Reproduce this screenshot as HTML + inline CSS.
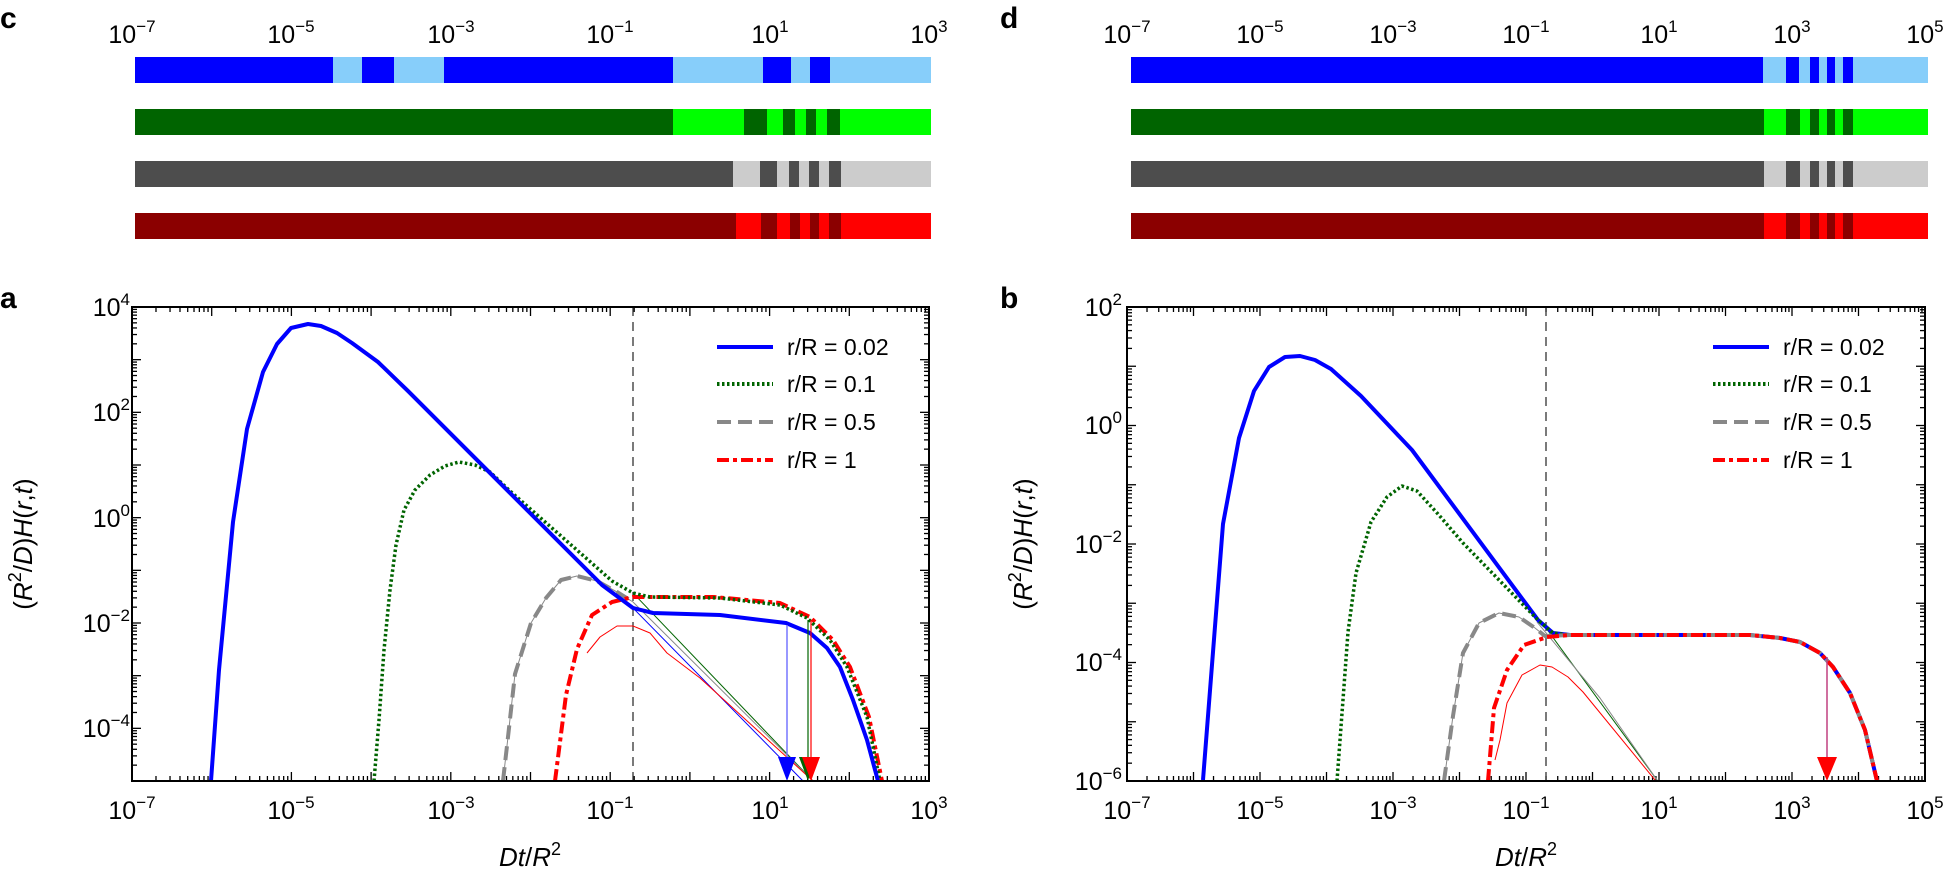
<!DOCTYPE html>
<html><head><meta charset="utf-8"><style>
html,body{margin:0;padding:0;background:#fff}
svg{display:block}
text{font-family:"Liberation Sans",Arial,sans-serif;fill:#000}
</style></head><body>
<svg id="s" width="1946" height="872" viewBox="0 0 1946 872" xmlns="http://www.w3.org/2000/svg">
<g id="bars"></g>
<g id="ticks" stroke="#000" stroke-width="1.3"></g>
<line x1="633" y1="307" x2="633" y2="781" stroke="#333" stroke-width="1.3" stroke-dasharray="9,6"/>
<line x1="1546" y1="307" x2="1546" y2="781" stroke="#333" stroke-width="1.3" stroke-dasharray="9,6"/>
<g fill="none" stroke-linejoin="round">
<polyline points="633,608 803,781" stroke="#0000ff" stroke-width="1"/>
<polyline points="633,593 813,781" stroke="#006400" stroke-width="1"/>
<polyline points="633,602 813,781" stroke="#888" stroke-width="1"/>
<polyline points="587,653 600,637 617,626 633,626 650,633 667,653 700,678 813,781" stroke="#ff0000" stroke-width="1"/>
<polyline points="503,781 508,737 515,674 531,623 546,598 561,580 577,576 597,581 617,592 633,602" stroke="#888" stroke-width="1"/>
<polyline points="503,781 508,737 515,674 531,623 546,598 561,580 577,576 597,581 617,592 633,602" stroke="#888" stroke-width="4" stroke-dasharray="14,7"/>
<polyline points="555,781 566,695 577,649 592,615 612,602 633,597 714,597 780,603 810,617 833,640 850,667 869,717 882,781" stroke="#ff0000" stroke-width="4" stroke-dasharray="12,4,4,4"/>
<polyline points="374,781 379,720 384,650 390,590 396,545 404,510 415,490 430,475 445,466 459,462 475,465 490,472 510,491 612,581 633,593 650,597 720,598 780,605 807,618 830,640 847,667 867,717 880,781" stroke="#006400" stroke-width="3.5" stroke-dasharray="2.5,2.5"/>
<polyline points="211,781 219,670 233,522 247,429 263,372 277,344 291,328 308,324 321,326 337,333 352,343 378,362 408,391 602,585 633,608 653,613 720,615 786,623 810,633 827,648 840,667 853,700 867,740 878,781" stroke="#0000ff" stroke-width="4"/>
<line x1="787" y1="625" x2="787" y2="760" stroke="#7777ff" stroke-width="1.5"/>
<line x1="808" y1="620" x2="808" y2="760" stroke="#006400" stroke-width="1.2"/>
<line x1="811" y1="620" x2="811" y2="760" stroke="#ff0000" stroke-width="1.2"/>
<polyline points="1546,628 1657,780" stroke="#006400" stroke-width="1"/>
<polyline points="1537,622 1600,698 1657,780" stroke="#888" stroke-width="1"/>
<polyline points="1495,760 1500,740 1507,703 1522,675 1540,665 1552,667 1568,677 1583,692 1655,780" stroke="#ff0000" stroke-width="1"/>
<polyline points="1444,781 1453,716 1463,653 1479,623 1499,613 1519,617 1535,628 1545,636" stroke="#888" stroke-width="1"/>
<polyline points="1203,780 1223,524 1239,438 1254,391 1269,367 1285,357 1300,356 1315,360 1331,369 1361,396 1412,450 1538,620 1553,633 1570,635 1750,635 1780,638 1800,642 1820,653 1833,667 1850,693 1865,730 1877,781" stroke="#0000ff" stroke-width="4"/>
<polyline points="1337,781 1348,632 1356,573 1371,522 1387,497 1402,486 1417,491 1438,514 1463,543 1538,620 1553,633 1570,635" stroke="#006400" stroke-width="3.5" stroke-dasharray="2.5,2.5"/>
<polyline points="1444,781 1453,716 1463,653 1479,623 1499,613 1519,617 1535,628 1545,636 1570,635 1750,635 1780,638 1800,642 1820,653 1833,667 1850,693 1865,730 1877,781" stroke="#888" stroke-width="4" stroke-dasharray="14,7"/>
<polyline points="1488,781 1494,708 1507,670 1524,645 1547,637 1570,635 1750,635 1780,638 1800,642 1820,653 1833,667 1850,693 1865,730 1877,781" stroke="#ff0000" stroke-width="4" stroke-dasharray="12,4,4,4"/>
<line x1="1827" y1="657" x2="1827" y2="760" stroke="#c04080" stroke-width="1.5"/>
</g>
<polygon points="778,757 796,757 787,781" fill="#0000ff"/>
<polygon points="799,757 815,757 808,781" fill="#006400"/>
<polygon points="802,757 820,757 811,781" fill="#ff0000"/>
<polygon points="1817,757 1837,757 1827,781" fill="#ff0000"/>
<rect x="132" y="307" width="797" height="474" fill="none" stroke="#000" stroke-width="2"/>
<rect x="1127" y="307" width="798" height="474" fill="none" stroke="#000" stroke-width="2"/>
<g stroke-width="4" fill="none">
<line x1="717" y1="347" x2="773" y2="347" stroke="#0000ff"/>
<line x1="717" y1="384" x2="773" y2="384" stroke="#006400" stroke-dasharray="2.5,2.5"/>
<line x1="717" y1="422" x2="773" y2="422" stroke="#888" stroke-dasharray="14,7"/>
<line x1="717" y1="460" x2="773" y2="460" stroke="#ff0000" stroke-dasharray="12,4,4,4"/>
<line x1="1713" y1="347" x2="1769" y2="347" stroke="#0000ff"/>
<line x1="1713" y1="384" x2="1769" y2="384" stroke="#006400" stroke-dasharray="2.5,2.5"/>
<line x1="1713" y1="422" x2="1769" y2="422" stroke="#888" stroke-dasharray="14,7"/>
<line x1="1713" y1="460" x2="1769" y2="460" stroke="#ff0000" stroke-dasharray="12,4,4,4"/>
</g>
<g font-size="23">
<text x="787" y="355">r/R = 0.02</text><text x="787" y="392">r/R = 0.1</text><text x="787" y="430">r/R = 0.5</text><text x="787" y="468">r/R = 1</text>
<text x="1783" y="355">r/R = 0.02</text><text x="1783" y="392">r/R = 0.1</text><text x="1783" y="430">r/R = 0.5</text><text x="1783" y="468">r/R = 1</text>
</g>
<g font-size="30" font-weight="bold">
<text x="0" y="28">c</text><text x="1000" y="28">d</text>
<text x="0" y="308">a</text><text x="1000" y="308">b</text>
</g>
<g font-size="25" text-anchor="middle">
<text x="132" y="43">10<tspan font-size="17" dy="-11">−7</tspan></text>
<text x="291" y="43">10<tspan font-size="17" dy="-11">−5</tspan></text>
<text x="451" y="43">10<tspan font-size="17" dy="-11">−3</tspan></text>
<text x="610" y="43">10<tspan font-size="17" dy="-11">−1</tspan></text>
<text x="770" y="43">10<tspan font-size="17" dy="-11">1</tspan></text>
<text x="929" y="43">10<tspan font-size="17" dy="-11">3</tspan></text>
<text x="1127" y="43">10<tspan font-size="17" dy="-11">−7</tspan></text>
<text x="1260" y="43">10<tspan font-size="17" dy="-11">−5</tspan></text>
<text x="1393" y="43">10<tspan font-size="17" dy="-11">−3</tspan></text>
<text x="1526" y="43">10<tspan font-size="17" dy="-11">−1</tspan></text>
<text x="1659" y="43">10<tspan font-size="17" dy="-11">1</tspan></text>
<text x="1792" y="43">10<tspan font-size="17" dy="-11">3</tspan></text>
<text x="1925" y="43">10<tspan font-size="17" dy="-11">5</tspan></text>
<text x="132" y="819">10<tspan font-size="17" dy="-11">−7</tspan></text>
<text x="291" y="819">10<tspan font-size="17" dy="-11">−5</tspan></text>
<text x="451" y="819">10<tspan font-size="17" dy="-11">−3</tspan></text>
<text x="610" y="819">10<tspan font-size="17" dy="-11">−1</tspan></text>
<text x="770" y="819">10<tspan font-size="17" dy="-11">1</tspan></text>
<text x="929" y="819">10<tspan font-size="17" dy="-11">3</tspan></text>
<text x="1127" y="819">10<tspan font-size="17" dy="-11">−7</tspan></text>
<text x="1260" y="819">10<tspan font-size="17" dy="-11">−5</tspan></text>
<text x="1393" y="819">10<tspan font-size="17" dy="-11">−3</tspan></text>
<text x="1526" y="819">10<tspan font-size="17" dy="-11">−1</tspan></text>
<text x="1659" y="819">10<tspan font-size="17" dy="-11">1</tspan></text>
<text x="1792" y="819">10<tspan font-size="17" dy="-11">3</tspan></text>
<text x="1925" y="819">10<tspan font-size="17" dy="-11">5</tspan></text>
</g>
<g font-size="25" text-anchor="end">
<text x="130" y="316">10<tspan font-size="17" dy="-11">4</tspan></text>
<text x="130" y="421">10<tspan font-size="17" dy="-11">2</tspan></text>
<text x="130" y="527">10<tspan font-size="17" dy="-11">0</tspan></text>
<text x="130" y="632">10<tspan font-size="17" dy="-11">−2</tspan></text>
<text x="130" y="737">10<tspan font-size="17" dy="-11">−4</tspan></text>
<text x="1122" y="316">10<tspan font-size="17" dy="-11">2</tspan></text>
<text x="1122" y="434">10<tspan font-size="17" dy="-11">0</tspan></text>
<text x="1122" y="553">10<tspan font-size="17" dy="-11">−2</tspan></text>
<text x="1122" y="671">10<tspan font-size="17" dy="-11">−4</tspan></text>
<text x="1122" y="790">10<tspan font-size="17" dy="-11">−6</tspan></text>
</g>
<g font-size="26" text-anchor="middle">
<text x="530" y="866"><tspan font-style="italic">Dt</tspan>/<tspan font-style="italic">R</tspan><tspan font-size="18" dy="-11">2</tspan></text>
<text x="1526" y="866"><tspan font-style="italic">Dt</tspan>/<tspan font-style="italic">R</tspan><tspan font-size="18" dy="-11">2</tspan></text>
<text transform="translate(32,544) rotate(-90)">(<tspan font-style="italic">R</tspan><tspan font-size="18" dy="-11">2</tspan><tspan dy="11">/</tspan><tspan font-style="italic">D</tspan>)<tspan font-style="italic">H</tspan>(<tspan font-style="italic">r</tspan>,<tspan font-style="italic">t</tspan>)</text>
<text transform="translate(1032,544) rotate(-90)">(<tspan font-style="italic">R</tspan><tspan font-size="18" dy="-11">2</tspan><tspan dy="11">/</tspan><tspan font-style="italic">D</tspan>)<tspan font-style="italic">H</tspan>(<tspan font-style="italic">r</tspan>,<tspan font-style="italic">t</tspan>)</text>
</g>
</svg>
<script>
(function(){
var NS="http://www.w3.org/2000/svg";
function el(p,n,a){var e=document.createElementNS(NS,n);for(var k in a)e.setAttribute(k,a[k]);p.appendChild(e);return e;}
var bars=document.getElementById("bars");
function row(y,x0,x1,dark,light,segs){
  el(bars,"rect",{x:x0,y:y,width:x1-x0,height:26,fill:dark});
  for(var i=0;i<segs.length;i+=2){el(bars,"rect",{x:segs[i],y:y,width:segs[i+1]-segs[i],height:26,fill:light});}
}
row(57,135,931,"#0000ff","#87cefa",[333,362,394,444,673,763,791,810,830,931]);
row(109,135,931,"#006400","#00ff00",[673,744,767,783,795,806,816,827,840,931]);
row(161,135,931,"#4d4d4d","#cccccc",[733,760,777,789,799,809,819,829,841,931]);
row(213,135,931,"#8b0000","#ff0000",[736,761,777,790,800,810,819,829,841,931]);
row(57,1131,1928,"#0000ff","#87cefa",[1763,1786,1799,1810,1819,1827,1835,1843,1853,1928]);
row(109,1131,1928,"#006400","#00ff00",[1764,1786,1800,1810,1819,1827,1835,1843,1853,1928]);
row(161,1131,1928,"#4d4d4d","#cccccc",[1764,1786,1800,1810,1819,1827,1835,1843,1853,1928]);
row(213,1131,1928,"#8b0000","#ff0000",[1764,1786,1800,1810,1819,1827,1835,1843,1853,1928]);
var t=document.getElementById("ticks");
function axis(x0,x1,y0,y1,lx0,lx1,ly0,ly1){
  var dx=(x1-x0)/(lx1-lx0), dy=(y1-y0)/(ly1-ly0);
  for(var d=lx0;d<lx1+0.001;d++){
    for(var m=1;m<10;m++){
      if(d==lx1&&m>1)break;
      var x=x0+(d-lx0+Math.log10(m))*dx, L=m==1?9:5;
      el(t,"line",{x1:x,y1:y1,x2:x,y2:y1-L});
      el(t,"line",{x1:x,y1:y0,x2:x,y2:y0+L});
    }
  }
  for(var d=ly0;d<ly1+0.001;d++){
    for(var m=1;m<10;m++){
      if(d==ly1&&m>1)break;
      var y=y1-(d-ly0+Math.log10(m))*dy, L=m==1?9:5;
      el(t,"line",{x1:x0,y1:y,x2:x0+L,y2:y});
      el(t,"line",{x1:x1,y1:y,x2:x1-L,y2:y});
    }
  }
}
axis(132,929,307,781,-7,3,-5,4);
axis(1127,1925,307,781,-7,5,-6,2);
})();
</script>
</body></html>
